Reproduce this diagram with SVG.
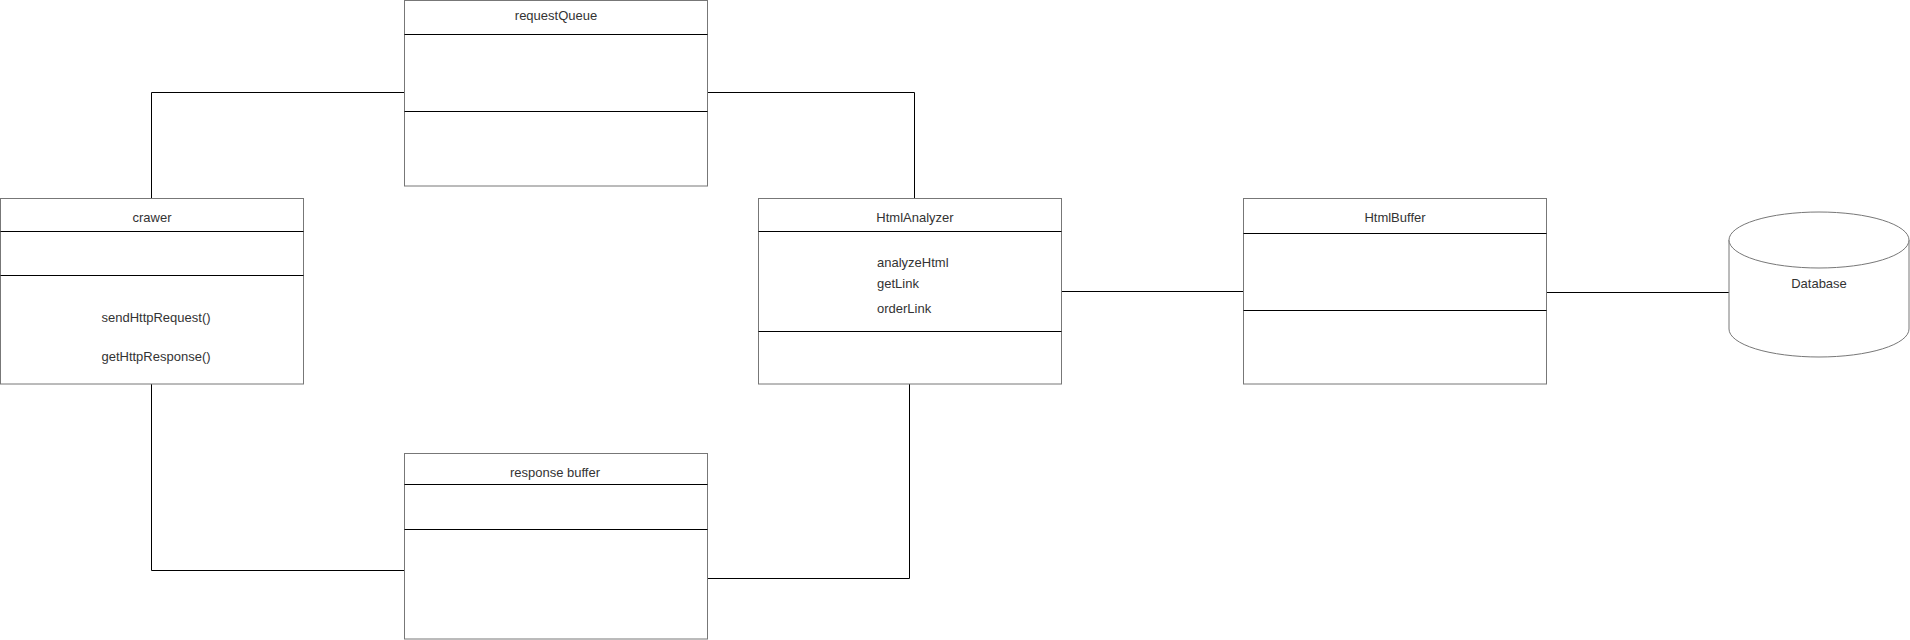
<svg xmlns="http://www.w3.org/2000/svg" width="1910" height="640" viewBox="0 0 1910 640">
<style>
.box{fill:#fff;stroke:#777;stroke-width:1}
.div{stroke:#000;stroke-width:1}
.t{font-family:"Liberation Sans",Arial,sans-serif;font-size:13px;fill:#333}
.c{text-anchor:middle}
.conn{fill:none;stroke:#000;stroke-width:1}
</style>
<rect width="1910" height="640" fill="#fff"/>
<g id="connectors">
<polyline class="conn" points="151.5,198 151.5,92.5 404,92.5"/>
<polyline class="conn" points="707,92.5 914.5,92.5 914.5,198"/>
<polyline class="conn" points="151.5,384 151.5,570.5 404.5,570.5"/>
<polyline class="conn" points="707.5,578.5 909.5,578.5 909.5,384"/>
<line class="conn" x1="1062" y1="291.5" x2="1243.5" y2="291.5"/>
<line class="conn" x1="1546.5" y1="292.5" x2="1729" y2="292.5"/>
</g>
<g id="requestQueue">
<rect class="box" x="404.5" y="0.5" width="303" height="185.5"/>
<line class="div" x1="404.5" y1="34.5" x2="707.5" y2="34.5"/>
<line class="div" x1="404.5" y1="111.5" x2="707.5" y2="111.5"/>
<text class="t c" x="556" y="19.5">requestQueue</text>
</g>
<g id="crawer">
<rect class="box" x="0.5" y="198.5" width="303" height="185.5"/>
<line class="div" x1="0.5" y1="231.5" x2="303.5" y2="231.5"/>
<line class="div" x1="0.5" y1="275.5" x2="303.5" y2="275.5"/>
<text class="t c" x="152" y="221.5">crawer</text>
<text class="t c" x="156" y="321.5">sendHttpRequest()</text>
<text class="t c" x="156" y="360.5">getHttpResponse()</text>
</g>
<g id="HtmlAnalyzer">
<rect class="box" x="758.5" y="198.5" width="303" height="185.5"/>
<line class="div" x1="758.5" y1="231.5" x2="1061.5" y2="231.5"/>
<line class="div" x1="758.5" y1="331.5" x2="1061.5" y2="331.5"/>
<text class="t c" x="915" y="221.5">HtmlAnalyzer</text>
<text class="t" x="877" y="266.5">analyzeHtml</text>
<text class="t" x="877" y="287.5">getLink</text>
<text class="t" x="877" y="312.5">orderLink</text>
</g>
<g id="HtmlBuffer">
<rect class="box" x="1243.5" y="198.5" width="303" height="185.5"/>
<line class="div" x1="1243.5" y1="233.5" x2="1546.5" y2="233.5"/>
<line class="div" x1="1243.5" y1="310.5" x2="1546.5" y2="310.5"/>
<text class="t c" x="1395" y="221.5">HtmlBuffer</text>
</g>
<g id="Database">
<path d="M1729,240 L1729,329 A90,28 0 0 0 1909,329 L1909,240" fill="#fff" stroke="#777" stroke-width="1"/>
<ellipse cx="1819" cy="240" rx="90" ry="28" fill="#fff" stroke="#777" stroke-width="1"/>
<text class="t c" x="1819" y="287.5">Database</text>
</g>
<g id="responseBuffer">
<rect class="box" x="404.5" y="453.5" width="303" height="185.5"/>
<line class="div" x1="404.5" y1="484.5" x2="707.5" y2="484.5"/>
<line class="div" x1="404.5" y1="529.5" x2="707.5" y2="529.5"/>
<text class="t c" x="555" y="476.5">response buffer</text>
</g>
</svg>
